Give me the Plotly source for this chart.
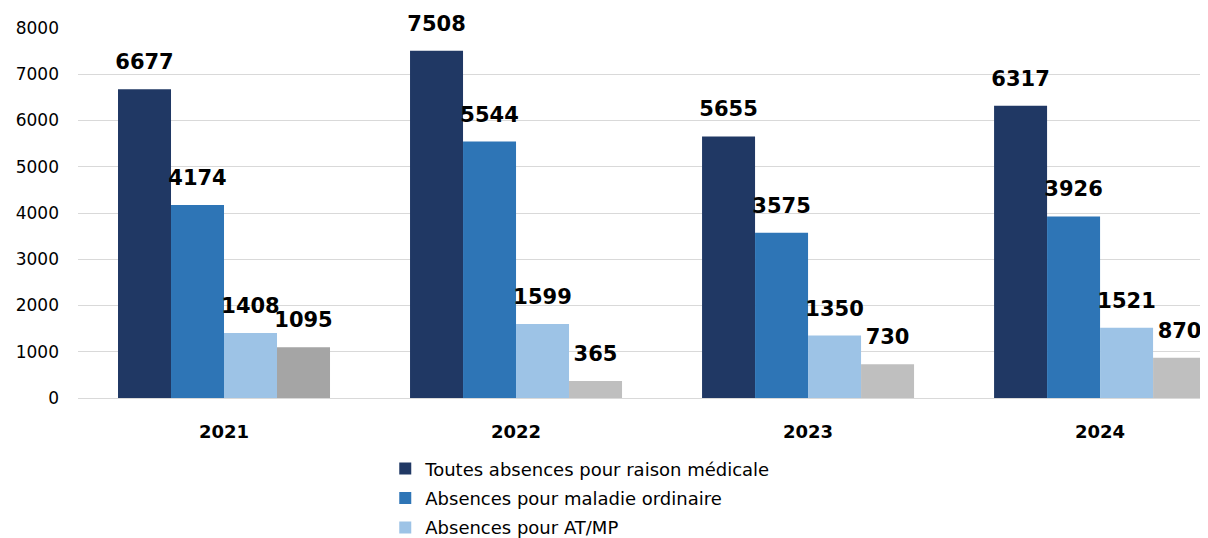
import plotly.graph_objects as go

years = ["2021", "2022", "2023", "2024"]
toutes = [6677, 7508, 5655, 6317]
ordinaire = [4174, 5544, 3575, 3926]
atmp = [1408, 1599, 1350, 1521]
autres = [1095, 365, 730, 870]

names = [
    "Toutes absences pour raison médicale",
    "Absences pour maladie ordinaire",
    "Absences pour AT/MP",
    "Absences pour longue maladie et longue durée",
]
series = [toutes, ordinaire, atmp, autres]
colors = ["#203864", "#2E75B6", "#9DC3E6", ["#A5A5A5", "#BFBFBF", "#BFBFBF", "#BFBFBF"]]

FONT = "DejaVu Sans"

fig = go.Figure()
for i, (name, vals, col) in enumerate(zip(names, series, colors)):
    fig.add_trace(go.Bar(
        x=years, y=vals, name=name,
        marker=dict(color=col, line=dict(width=0)),
        offsetgroup=str(i), legendgroup=str(i),
        hoverinfo="skip",
    ))
for i, vals in enumerate(series):
    fig.add_trace(go.Scatter(
        x=years, y=vals, mode="markers+text",
        text=[str(v) for v in vals], textposition="top center",
        textfont=dict(family=FONT, size=21, color="#000000", weight="bold"),
        marker=dict(size=22, opacity=0),
        offsetgroup=str(i), legendgroup=str(i), showlegend=False,
        hoverinfo="skip", cliponaxis=False,
    ))

fig.update_layout(
    width=1208, height=538,
    margin=dict(l=70, r=0, t=20, b=148, autoexpand=False),
    paper_bgcolor="white", plot_bgcolor="white",
    barmode="group", bargap=0.274, bargroupgap=0,
    scattermode="group",
    font=dict(family=FONT, color="#000000"),
    legend=dict(
        orientation="v", x=0.27, xanchor="left", y=-0.1416, yanchor="top",
        font=dict(family=FONT, size=18, color="#000000"),
        tracegroupgap=3, bgcolor="rgba(0,0,0,0)",
    ),
    xaxis=dict(
        range=[-0.5, 3.397], showgrid=False, ticks="", showline=False,
        tickfont=dict(family=FONT, size=18, color="#000000", weight="bold"),
        ticklabelstandoff=21,
    ),
    yaxis=dict(
        range=[0, 8000], dtick=1000, showgrid=True, gridcolor="#D9D9D9", gridwidth=1,
        zeroline=True, zerolinecolor="#D9D9D9", zerolinewidth=1,
        tickfont=dict(family=FONT, size=17, color="#000000"),
        ticks="", ticklabelstandoff=18,
    ),
)

fig.write_html("out.html")
